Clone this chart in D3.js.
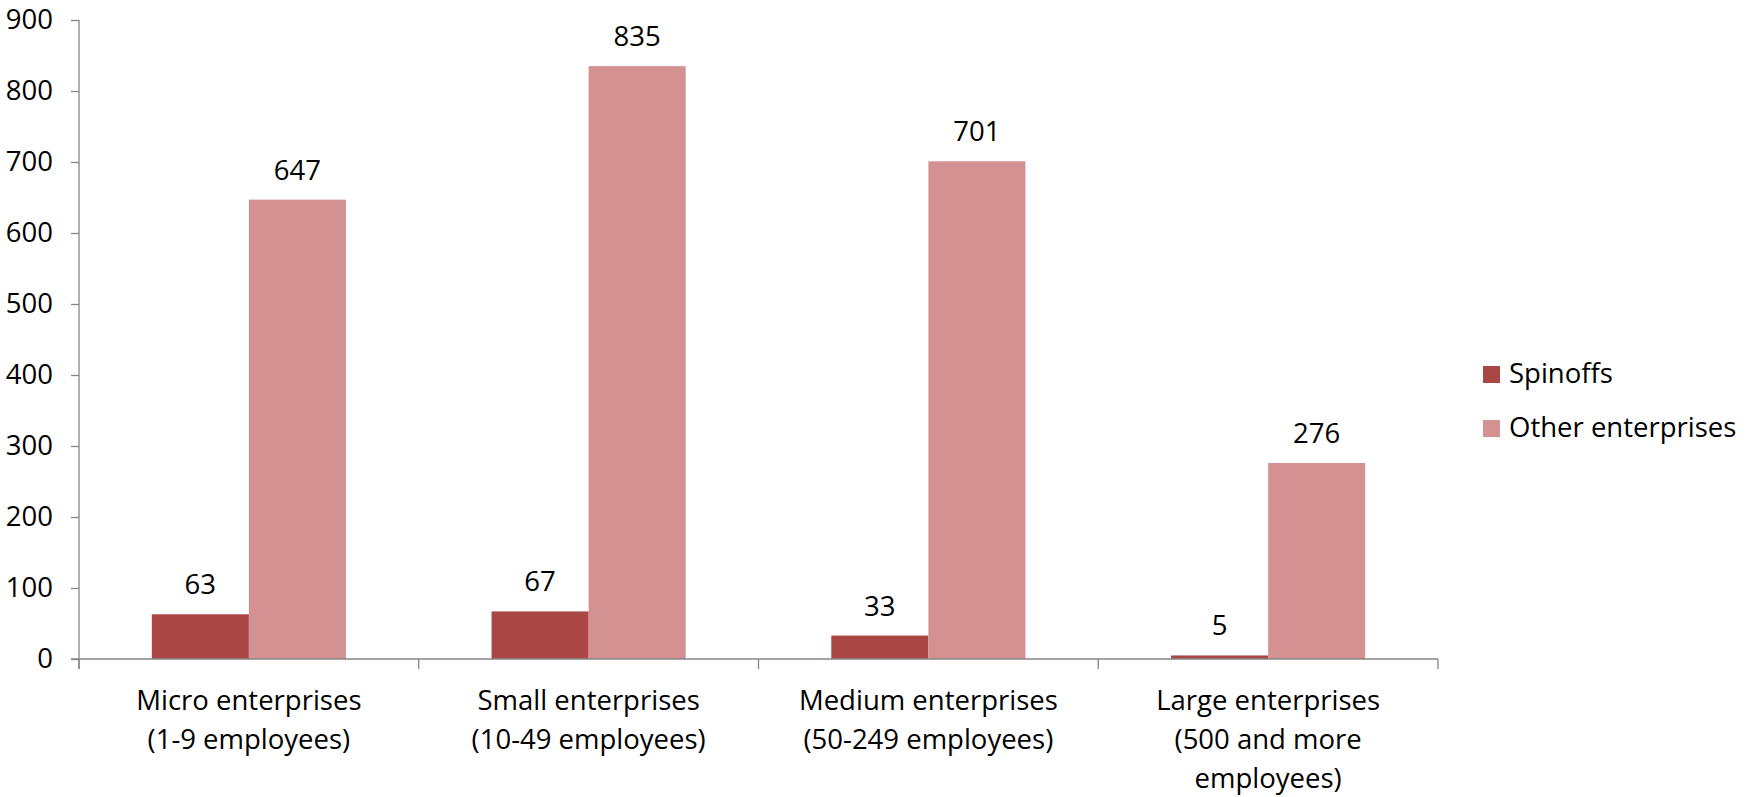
<!DOCTYPE html>
<html>
<head>
<meta charset="utf-8">
<script src="https://cdn.jsdelivr.net/npm/d3@7/dist/d3.min.js"></script>
<style>
  html, body { margin: 0; padding: 0; background: #ffffff; }
  svg { display: block; }
  text { font-family: "Open Sans", "Liberation Sans", sans-serif; fill: #000; }
</style>
</head>
<body>
<svg id="chart" width="1756" height="797"></svg>
<script>
// Enterprise size classes (each label split into display lines)
const categories = [
  "Micro enterprises (1-9 employees)",
  "Small enterprises (10-49 employees)",
  "Medium enterprises (50-249 employees)",
  "Large enterprises (500 and more employees)"
];
const categoryLines = [
  ["Micro enterprises", "(1-9 employees)"],
  ["Small enterprises", "(10-49 employees)"],
  ["Medium enterprises", "(50-249 employees)"],
  ["Large enterprises", "(500 and more", "employees)"]
];
const seriesNames = ["Spinoffs", "Other enterprises"];
const spinoffs = [63, 67, 33, 5];
const otherEnterprises = [647, 835, 701, 276];
const yTicks = [0, 100, 200, 300, 400, 500, 600, 700, 800, 900];
const seriesColors = ["#AA4644", "#D39191"];

const svg = d3.select("#chart");
const fontSize = 27.5;

const plot = { left: 79, right: 1438, top: 20, bottom: 659 };

const x0 = d3.scaleBand()
  .domain(categories)
  .range([plot.left, plot.right])
  .paddingInner(0)
  .paddingOuter(0);

const x1 = d3.scaleBand()
  .domain(seriesNames)
  .range([0, x0.bandwidth()])
  .paddingInner(0)
  .paddingOuter(0.75);

const y = d3.scaleLinear()
  .domain([0, 900])
  .range([plot.bottom, plot.top]);

const color = d3.scaleOrdinal().domain(seriesNames).range(seriesColors);

const rows = categories.map((c, i) => ({
  category: c,
  values: [
    { series: seriesNames[0], value: spinoffs[i] },
    { series: seriesNames[1], value: otherEnterprises[i] }
  ]
}));

// Bars
const groups = svg.append("g").selectAll("g")
  .data(rows)
  .join("g")
  .attr("transform", d => `translate(${x0(d.category)},0)`);

groups.selectAll("rect")
  .data(d => d.values)
  .join("rect")
  .attr("x", d => x1(d.series))
  .attr("width", x1.bandwidth())
  .attr("y", d => y(d.value))
  .attr("height", d => y(0) - y(d.value))
  .attr("fill", d => color(d.series));

// Value labels above the bars
groups.selectAll("text.value")
  .data(d => d.values)
  .join("text")
  .attr("class", "value")
  .attr("x", d => x1(d.series) + x1.bandwidth() / 2)
  .attr("y", d => y(d.value) - 20)
  .attr("text-anchor", "middle")
  .style("font-size", fontSize + "px")
  .text(d => d.value);

// Y axis
const yAxis = svg.append("g")
  .attr("transform", `translate(${plot.left},0)`)
  .call(d3.axisLeft(y).tickValues(yTicks).tickSize(8).tickPadding(18).tickSizeOuter(0));
yAxis.select(".domain").attr("stroke", "#868686").attr("stroke-width", 1.3)
  .attr("d", `M0,${plot.top}V${plot.bottom + 10}`);
yAxis.selectAll(".tick line").attr("stroke", "#868686").attr("stroke-width", 1.3);
yAxis.selectAll(".tick text")
  .style("font-size", fontSize + "px")
  .style("font-family", '"Open Sans", "Liberation Sans", sans-serif')
  .attr("fill", "#000");

// X axis with boundary ticks between categories
const xAxis = svg.append("g").attr("transform", `translate(0,${plot.bottom})`);
xAxis.append("path")
  .attr("d", `M${plot.left - 8},0H${plot.right}`)
  .attr("stroke", "#868686").attr("stroke-width", 1.3).attr("fill", "none");
const boundaries = categories.map(c => x0(c)).concat([x0(categories[categories.length - 1]) + x0.bandwidth()]);
xAxis.selectAll("line.bound")
  .data(boundaries)
  .join("line")
  .attr("class", "bound")
  .attr("x1", d => d).attr("x2", d => d)
  .attr("y1", 0).attr("y2", 10)
  .attr("stroke", "#868686").attr("stroke-width", 1.3);

const xLabels = xAxis.selectAll("text.cat")
  .data(categories)
  .join("text")
  .attr("class", "cat")
  .attr("text-anchor", "middle")
  .attr("transform", d => `translate(${x0(d) + x0.bandwidth() / 2},0)`)
  .style("font-size", fontSize + "px");
xLabels.selectAll("tspan")
  .data((d, i) => categoryLines[i])
  .join("tspan")
  .attr("x", 0)
  .attr("y", (d, i) => 51 + i * 39)
  .text(d => d);

// Legend
const legend = svg.append("g").attr("transform", "translate(1483,366)");
const items = legend.selectAll("g")
  .data(seriesNames)
  .join("g")
  .attr("transform", (d, i) => `translate(0,${i * 54})`);
items.append("rect")
  .attr("width", 17).attr("height", 17)
  .attr("fill", d => color(d));
items.append("text")
  .attr("x", 26).attr("y", 17)
  .style("font-size", fontSize + "px")
  .text(d => d);
</script>
</body>
</html>
